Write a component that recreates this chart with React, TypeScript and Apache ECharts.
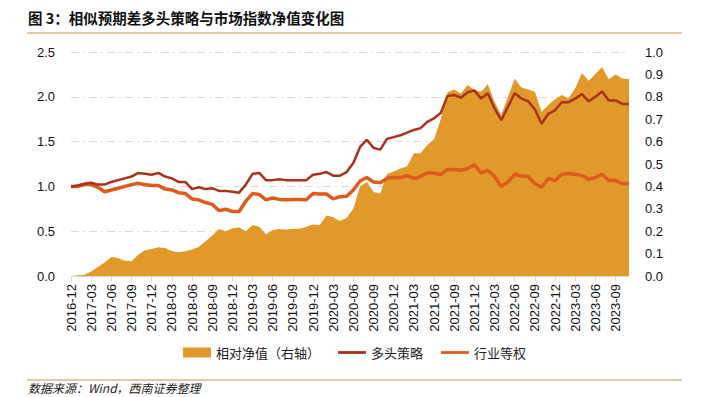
import React, { useEffect, useRef } from "react";
import * as echarts from "echarts";

// Categories: monthly, 2016-12 .. 2023-11
const months: string[] = (() => {
  const out: string[] = [];
  let y = 2016;
  let m = 12;
  for (let k = 0; k < 84; k++) {
    out.push(`${y}-${m < 10 ? "0" + m : m}`);
    m++;
    if (m > 12) {
      m = 1;
      y++;
    }
  }
  return out;
})();

// 相对净值（右轴）
const relativeNav: number[] = [
  0.0, 0.003, 0.006, 0.02, 0.04, 0.06, 0.085, 0.08, 0.068, 0.066,
  0.095, 0.115, 0.12, 0.128, 0.125, 0.112, 0.106, 0.11, 0.118, 0.13,
  0.155, 0.18, 0.21, 0.2, 0.213, 0.217, 0.2, 0.228, 0.22, 0.186,
  0.205, 0.21, 0.208, 0.21, 0.211, 0.22, 0.23, 0.228, 0.27, 0.262,
  0.245, 0.26, 0.3, 0.4, 0.42, 0.375, 0.368, 0.455, 0.466, 0.48,
  0.49, 0.548, 0.548, 0.585, 0.61, 0.7, 0.82, 0.833, 0.815, 0.853,
  0.83, 0.823, 0.856, 0.778, 0.719, 0.8, 0.882, 0.842, 0.833, 0.823,
  0.733, 0.763, 0.789, 0.808, 0.793, 0.838, 0.905, 0.872, 0.902, 0.932,
  0.878, 0.9, 0.882, 0.878,
];

// 多头策略
const longStrategy: number[] = [
  1.0, 1.01, 1.03, 1.04, 1.02, 1.02, 1.05, 1.07, 1.09, 1.11,
  1.15, 1.14, 1.13, 1.15, 1.11, 1.09, 1.05, 1.05, 0.97, 0.99,
  0.97, 0.98, 0.95, 0.95, 0.94, 0.93, 1.02, 1.14, 1.15, 1.07,
  1.07, 1.08, 1.07, 1.07, 1.07, 1.07, 1.13, 1.14, 1.16, 1.12,
  1.12, 1.16, 1.26, 1.44, 1.52, 1.43, 1.41, 1.53, 1.55, 1.57,
  1.6, 1.63, 1.65, 1.72, 1.76, 1.82, 2.01, 2.02, 1.99, 2.05,
  2.07, 1.98, 2.04, 1.87, 1.74, 1.89, 2.04, 1.98, 1.95, 1.86,
  1.7, 1.81, 1.85, 1.94, 1.94, 1.98, 2.03, 1.95, 2.0, 2.06,
  1.96, 1.96, 1.92, 1.92,
];

// 行业等权
const industryEqual: number[] = [
  1.0, 1.0, 1.02, 1.02, 0.99, 0.94, 0.96, 0.98, 1.0, 1.02,
  1.035, 1.02, 1.01, 1.01, 0.97, 0.96, 0.93, 0.92, 0.86, 0.85,
  0.82, 0.8, 0.73, 0.745, 0.72, 0.72, 0.835, 0.92, 0.91, 0.85,
  0.87, 0.855, 0.85, 0.855, 0.855, 0.85, 0.92, 0.915, 0.915, 0.86,
  0.885, 0.89, 0.96, 1.06, 1.1, 1.05, 1.04, 1.09, 1.1, 1.1,
  1.12, 1.09, 1.11, 1.15, 1.15, 1.13, 1.19, 1.19, 1.18, 1.2,
  1.24, 1.15, 1.18, 1.11, 1.0, 1.05, 1.135, 1.115, 1.11, 1.03,
  0.99, 1.09, 1.065, 1.135, 1.145, 1.135, 1.12, 1.08, 1.1, 1.135,
  1.065, 1.065, 1.03, 1.035,
];

const seriesNames = ["相对净值（右轴）", "多头策略", "行业等权"];
const titleText = "图 3：相似预期差多头策略与市场指数净值变化图";
const sourceText = "数据来源：Wind，西南证券整理";

const AREA_COLOR = "#E0992A";
const RED_COLOR = "#A8321C";
const ORANGE_COLOR = "#DE5B1C";
const RULE_COLOR = "#D8B98C";
const LATIN = "'Liberation Sans', Arial, sans-serif";
const CJK = "'Noto Sans CJK SC', 'Liberation Sans', sans-serif";
const LINE_ICON = "path://M0,0 H30 V3 H0 Z";

export default function App() {
  const ref = useRef<HTMLDivElement>(null);

  useEffect(() => {
    if (!ref.current) return;
    const chart = echarts.init(ref.current, undefined, { renderer: "svg" });
    chart.setOption({
      animation: false,
      backgroundColor: "#ffffff",
      grid: { left: 71, right: 80, top: 52, bottom: 121, containLabel: false },
      legend: {
        top: 341,
        left: "center",
        itemWidth: 28,
        itemHeight: 10,
        itemGap: 18,
        textStyle: { fontSize: 13, color: "#222", fontFamily: CJK },
        data: [
          { name: seriesNames[0], icon: "rect" },
          { name: seriesNames[1], icon: LINE_ICON },
          { name: seriesNames[2], icon: LINE_ICON },
        ],
      },
      xAxis: {
        type: "category",
        data: months,
        boundaryGap: false,
        axisLine: { lineStyle: { color: "#d9d9d9", width: 1 } },
        axisTick: { interval: 2, length: 5, lineStyle: { color: "#d9d9d9" } },
        axisLabel: {
          interval: 2,
          rotate: 90,
          margin: 8,
          fontSize: 13,
          color: "#111",
          fontFamily: LATIN,
        },
        splitLine: { show: false },
      },
      yAxis: [
        {
          type: "value",
          min: 0,
          max: 2.5,
          interval: 0.5,
          axisLine: { show: false },
          axisTick: { show: false },
          axisLabel: {
            margin: 16,
            fontSize: 13,
            color: "#111",
            fontFamily: LATIN,
            formatter: (v: number) => v.toFixed(1),
          },
          splitLine: {
            lineStyle: { color: "#d9d9d9", width: 1, type: [8, 4, 2, 4] },
          },
        },
        {
          type: "value",
          min: 0,
          max: 1,
          interval: 0.1,
          position: "right",
          axisLine: { show: false },
          axisTick: { show: false },
          axisLabel: {
            margin: 16,
            fontSize: 13,
            color: "#111",
            fontFamily: LATIN,
            formatter: (v: number) => v.toFixed(1),
          },
          splitLine: { show: false },
        },
      ],
      series: [
        {
          name: seriesNames[0],
          type: "line",
          yAxisIndex: 1,
          data: relativeNav,
          symbol: "none",
          lineStyle: { width: 0, color: AREA_COLOR },
          itemStyle: { color: AREA_COLOR },
          areaStyle: { color: AREA_COLOR, opacity: 1 },
          z: 1,
        },
        {
          name: seriesNames[1],
          type: "line",
          yAxisIndex: 0,
          data: longStrategy,
          symbol: "none",
          lineStyle: { width: 2.5, color: RED_COLOR },
          itemStyle: { color: RED_COLOR },
          z: 3,
        },
        {
          name: seriesNames[2],
          type: "line",
          yAxisIndex: 0,
          data: industryEqual,
          symbol: "none",
          lineStyle: { width: 3.5, color: ORANGE_COLOR },
          itemStyle: { color: ORANGE_COLOR },
          z: 2,
        },
      ],
      graphic: [
        {
          type: "text",
          left: 28,
          top: 10,
          style: {
            text: titleText,
            font: `bold 14.5px ${CJK}`,
            fill: "#111",
          },
        },
        {
          type: "line",
          shape: { x1: 27, y1: 33, x2: 682, y2: 33 },
          style: { stroke: RULE_COLOR, lineWidth: 1.5 },
        },
        {
          type: "line",
          shape: { x1: 27, y1: 380, x2: 682, y2: 380 },
          style: { stroke: RULE_COLOR, lineWidth: 1.5 },
        },
        {
          type: "text",
          left: 28,
          top: 381,
          style: {
            text: sourceText,
            font: `italic 12px ${CJK}`,
            fill: "#222",
          },
        },
      ],
    });
    return () => chart.dispose();
  }, []);

  return (
    <div
      ref={ref}
      style={{ position: "absolute", left: 0, top: 0, width: 709, height: 397 }}
    />
  );
}
